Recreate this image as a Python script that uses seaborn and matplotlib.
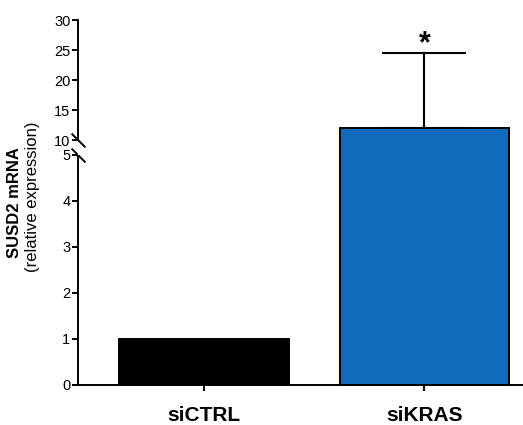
import numpy as np
import pandas as pd
import seaborn as sns
import matplotlib.pyplot as plt

sns.set_style('ticks')
plt.rcParams['font.family'] = ['Liberation Sans', 'DejaVu Sans']
plt.rcParams.update({'text.color': 'black', 'xtick.color': 'black', 'ytick.color': 'black',
                     'axes.edgecolor': 'black', 'axes.labelcolor': 'black'})

# data
groups = ['siCTRL', 'siKRAS']
means = [1.0, 12.0]
sem_up = [0.0, 12.5]
bar_colors = ['#000000', '#106BBF']
low_ticks = [0, 1, 2, 3, 4, 5]
high_ticks = [10, 15, 20, 25, 30]

df = pd.DataFrame({'group': groups, 'value': means})

W, H = 523, 425
fig = plt.figure(figsize=(W / 100, H / 100), dpi=100)
ax_lo = fig.add_axes([78 / W, (H - 385) / H, 445 / W, 230 / H])
ax_hi = fig.add_axes([78 / W, (H - 155) / H, 445 / W, 135 / H])

for ax in (ax_lo, ax_hi):
    sns.barplot(data=df, x='group', y='value', hue='group', palette=bar_colors,
                saturation=1, width=0.77, edgecolor='black', linewidth=1.4,
                legend=False, ax=ax, zorder=2)
    ax.set_xlim(-0.571, 1.447)
    ax.set_xlabel('')
    ax.set_ylabel('')
    for side in ('top', 'right'):
        ax.spines[side].set_visible(False)
    ax.spines['left'].set_linewidth(1.4)
    ax.tick_params(axis='y', length=4, width=1.4, labelsize=10.5, pad=1.5)

# error bar (upper side only, hidden inside the bar)
ax_hi.errorbar(x=range(len(groups)), y=means, yerr=[np.zeros(len(groups)), sem_up],
               fmt='none', ecolor='black', elinewidth=1.5, capsize=30, capthick=1.5,
               zorder=1)

ax_lo.set_ylim(0, 5)
ax_lo.set_yticks(low_ticks)
ax_lo.spines['bottom'].set_linewidth(1.4)
ax_lo.tick_params(axis='x', length=4, width=1.4, pad=11)
ax_lo.set_xticks(range(len(groups)))
ax_lo.set_xticklabels(groups, fontsize=15, fontweight='bold')

ax_hi.set_ylim(7.5, 30)
ax_hi.set_yticks(high_ticks)
ax_hi.spines['left'].set_bounds(10, 30)
ax_hi.spines['bottom'].set_visible(False)
ax_hi.tick_params(axis='x', bottom=False, labelbottom=False)

# axis break marks
ax_hi.plot([0], [10], marker=[(-1, 1), (1, -1)], markersize=10, color='black',
           mew=1.4, transform=ax_hi.get_yaxis_transform(), clip_on=False)
ax_lo.plot([0], [5], marker=[(-1, 1), (1, -1)], markersize=10, color='black',
           mew=1.4, transform=ax_lo.get_yaxis_transform(), clip_on=False)

# significance star
ax_hi.text(1, means[1] + sem_up[1] - 1.0, '*', ha='center', va='bottom',
           fontsize=22, fontweight='bold')

fig.text(15 / W, 1 - 203 / H, 'SUSD2 mRNA', rotation=90, ha='center', va='center',
         fontsize=12, fontweight='bold')
fig.text(33 / W, 1 - 197 / H, '(relative expression)', rotation=90, ha='center',
         va='center', fontsize=12)

fig.savefig('out.png', dpi=100)
